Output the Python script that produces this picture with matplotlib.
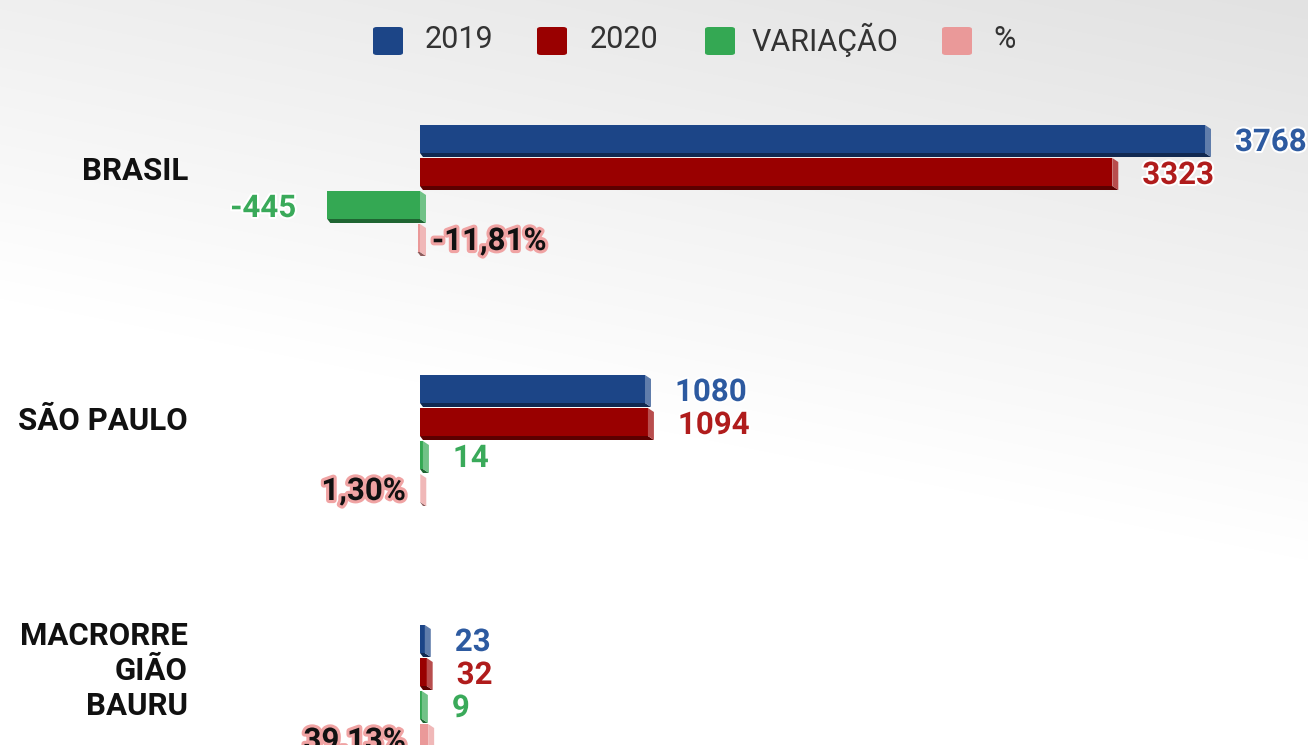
import numpy as np
import matplotlib
matplotlib.use("Agg")
import matplotlib.pyplot as plt
from matplotlib.patches import Polygon, FancyBboxPatch
from matplotlib.colors import to_rgb
import matplotlib.patheffects as pe

plt.rcParams['font.family'] = ['Roboto', 'DejaVu Sans']

# DATA #
categories = ['BRASIL', 'SÃO PAULO', 'MACRORRE\nGIÃO\nBAURU']
v2019 = [3768, 1080, 23]
v2020 = [3323, 1094, 32]
variacao = [-445, 14, 9]
percent = [-11.81, 1.30, 39.13]
series_names = ['2019', '2020', 'VARIAÇÃO', '%']


# STYLE #
bar_colors = ['#1c4587', '#990000', '#34a853', '#ea9999']
label_colors = ['#2d5aa0', '#b01c1c', '#3aaa5a', '#111111']
W, H = 1308, 745
zero_px, max_px = 420, 1205          # where 0 and the largest value land
group_px, pitch_px = 250, 33         # spacing between groups / between bars
face_px, lip_px, side_px = 28, 4, 6  # 3D look of the bars
first_center_px = 191
fs_label = 22.5


def lighter(c, f=0.3):
    r = np.array(to_rgb(c))
    return tuple(r + (1 - r) * f)
def darker(c, f=0.6):
    return tuple(np.array(to_rgb(c)) * f)


fig = plt.figure(figsize=(W / 100, H / 100), dpi=100)

# background gradient
bg = fig.add_axes([0, 0, 1, 1], zorder=-1)
yy, xx = np.mgrid[0:H, 0:W]
t = np.clip((yy + 0.2 * (W - xx)) / 560, 0, 1)
g = (226 + 29 * t) / 255
bg.imshow(np.dstack([g, g, g]), aspect='auto', extent=[0, W, H, 0])
bg.axis('off')

ax = fig.add_axes([0, 0, 1, 1])
ax.patch.set_alpha(0)
ux = (max_px - zero_px) / max(v2019)   # px per data unit
ax.set_xlim(-zero_px / ux, (W - zero_px) / ux)
ax.set_ylim((H - first_center_px) / group_px, -first_center_px / group_px)
ax.axis('off')

pitch = pitch_px / group_px
face = face_px / group_px
dx = side_px / ux
dy = lip_px / group_px
text_shift = 3 / group_px

series = [v2019, v2020, variacao, percent]
for j, vals in enumerate(series):
    col = bar_colors[j]
    for i, v in enumerate(vals):
        y_top = i + (j - 2) * pitch
        y_bot = y_top + face
        x0, x1 = min(0, v), max(0, v)
        ax.barh(y_top + face / 2, v, height=face, color=col, zorder=3)
        ax.add_patch(Polygon([(x0, y_bot), (x1, y_bot), (x1 + dx, y_bot + dy), (x0 + dx * 0.5, y_bot + dy)],
                             closed=True, facecolor=darker(col), edgecolor='none', zorder=3))
        ax.add_patch(Polygon([(x1, y_top), (x1 + dx, y_top + dy), (x1 + dx, y_bot + dy), (x1, y_bot)],
                             closed=True, facecolor=lighter(col), edgecolor='none', zorder=3))
        yc = y_top + face / 2 + text_shift
        if j == 3:
            txt = f"{v:.2f}".replace('.', ',') + '%'
            if v < 0:
                xt, ha = 12 / ux, 'left'
            else:
                xt, ha = -14 / ux, 'right'
            ax.text(xt, yc, txt, ha=ha, va='center', fontsize=fs_label, fontweight='bold',
                    color=label_colors[j], zorder=5,
                    path_effects=[pe.withStroke(linewidth=4.5, foreground='#f0a3a3')])
        else:
            if v >= 0:
                xt, ha = x1 + 30 / ux, 'left'
            else:
                xt, ha = x0 - 31 / ux, 'right'
            ax.text(xt, yc, str(v), ha=ha, va='center', fontsize=fs_label, fontweight='bold',
                    color=label_colors[j], zorder=5,
                    path_effects=[pe.withStroke(linewidth=3, foreground='white')])

# category labels
for i, cat in enumerate(categories):
    ax.text((188 - zero_px) / ux, i - 20 / group_px, cat, ha='right', va='center',
            fontsize=22.5, fontweight='bold', color='#111111', linespacing=1.2, zorder=5)

# legend
legend_sq_x = [373, 537, 705, 942]
legend_txt_x = [425, 590, 752, 993]
for k, name in enumerate(series_names):
    fig.patches.append(FancyBboxPatch(((legend_sq_x[k]) / W, 1 - 55 / H), 30 / W, 28 / H,
                                      boxstyle='round,pad=0,rounding_size=0.003',
                                      transform=fig.transFigure, facecolor=bar_colors[k],
                                      edgecolor='none'))
    fig.text(legend_txt_x[k] / W, 1 - 40 / H, name, ha='left', va='center',
             fontsize=22, color='#333333')

fig.savefig('out.png', dpi=100)
